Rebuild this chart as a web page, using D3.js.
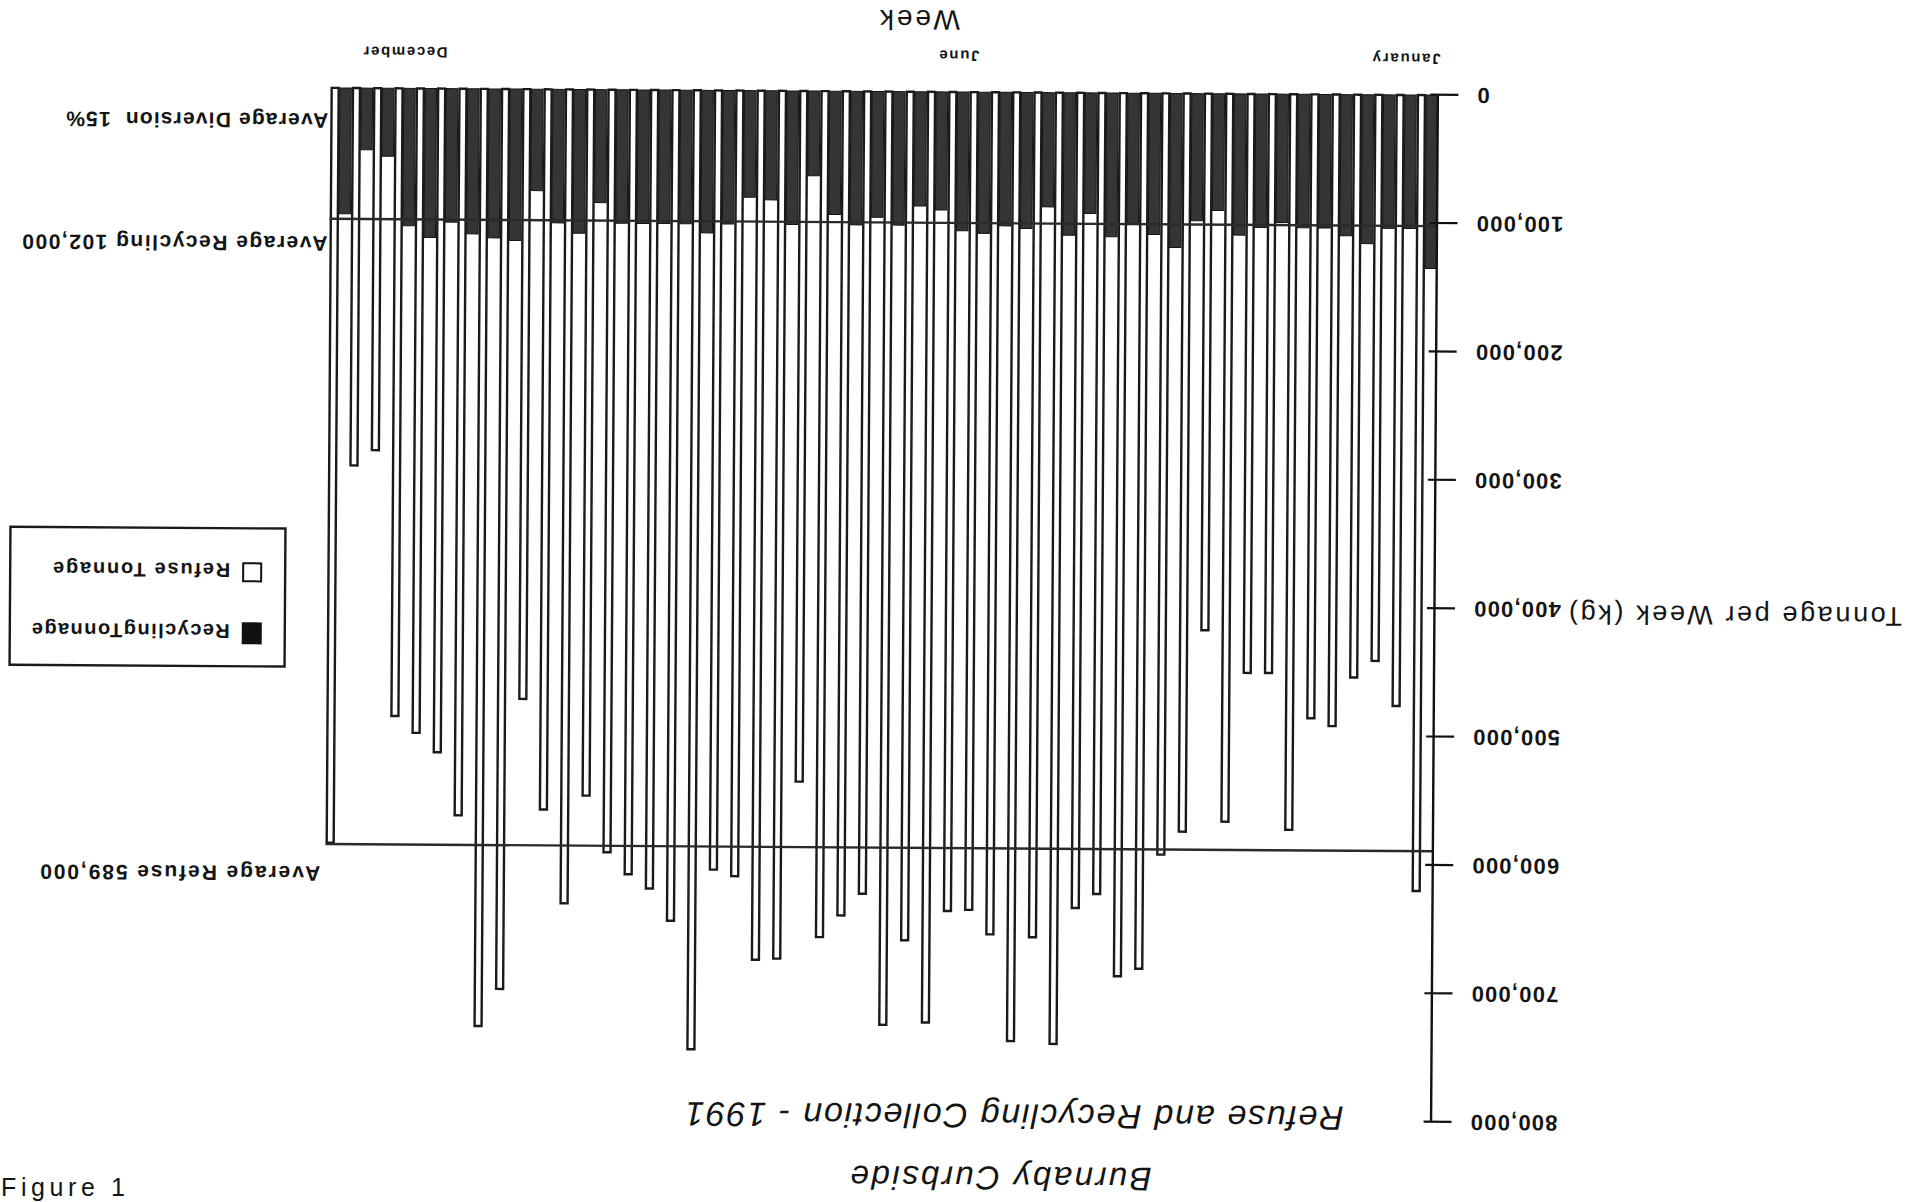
<!DOCTYPE html>
<html><head><meta charset="utf-8">
<script src="https://cdn.jsdelivr.net/npm/d3@7"></script>
<style>
html,body{margin:0;padding:0;background:#fff;}
svg{display:block;}
text{font-family:"Liberation Sans", Arial, sans-serif; fill:#141414;}
</style></head><body>
<svg id="chart" width="1909" height="1202"></svg>
<script>
// ---- data ----
const weeks = [1,2,3,4,5,6,7,8,9,10,11,12,13,14,15,16,17,18,19,20,21,22,23,24,25,26,
  27,28,29,30,31,32,33,34,35,36,37,38,39,40,41,42,43,44,45,46,47,48,49,50,51,52];
const refuseTonnage = [620,476,441,454,492,486,573,451,451,567,418,575,593,682,688,624,635,741,658,739,
  656,637,638,725,661,727,625,642,659,538,676,677,612,607,747,647,622,611,594,550,
  634,561,475,701,730,566,517,502,489,282,294,588].map(v => v * 1000);
const recyclingTonnage = [135,104,104,116,110,104,104,100,104,110,91,99,120,110,102,112,94,111,89,106,
  104,110,108,92,89,104,98,104,96,66,104,85,83,104,111,104,104,104,104,88,
  112,104,79,118,116,113,104,116,107,53,48,98].map(v => v * 1000);
const yTicks = [0,100000,200000,300000,400000,500000,600000,700000,800000];
const monthLabels = ["January","June","December"];
const monthWeeks = [2,23,49];
const monthWidths = [68,40,84];
const averageRefuse = 589000;
const averageRecycling = 102000;
const averageDiversion = 15;
const legendLabels = ["RecyclingTonnage","Refuse Tonnage"];

// ---- drawing ----
const W = 1909, H = 1202;
const svg = d3.select("#chart");
svg.append("rect").attr("width", W).attr("height", H).attr("fill", "#fff");
// the scanned page is upside down and slightly skewed
const g = svg.append("g").attr("transform", `rotate(180.38 ${W/2} ${H/2})`);

const x = d3.scaleBand().domain(weeks).range([474, 474 + 52 * 21.3]).padding(0);
const y = d3.scaleLinear().domain([0, 800000]).range([1110, 83]);
const darkW = 11.4, whiteOuter = 9.4, sw = 2.4;

g.selectAll("rect.rec").data(weeks).join("rect").attr("class","rec")
  .attr("x", w => x(w) + 0.8)
  .attr("width", darkW)
  .attr("y", (w,i) => y(recyclingTonnage[i]))
  .attr("height", (w,i) => y(0) - y(recyclingTonnage[i]))
  .attr("fill", "#353535").attr("stroke", "#141414").attr("stroke-width", 1);

g.selectAll("rect.ref").data(weeks).join("rect").attr("class","ref")
  .attr("x", w => x(w) + 0.8 + darkW + sw/2)
  .attr("width", whiteOuter - sw)
  .attr("y", (w,i) => y(refuseTonnage[i]))
  .attr("height", (w,i) => y(0) - y(refuseTonnage[i]))
  .attr("fill", "#fff").attr("stroke", "#1a1a1a").attr("stroke-width", sw);

const lineEnd = x(52) + 0.8 + darkW + whiteOuter;
[averageRecycling, averageRefuse].forEach(v => {
  g.append("line").attr("x1", 474).attr("x2", lineEnd)
    .attr("y1", y(v)).attr("y2", y(v))
    .attr("stroke", "#2a2a2a").attr("stroke-width", 2.4);
});

// y axis
const ax = g.append("g").attr("transform", "translate(474,0)")
  .call(d3.axisLeft(y).tickValues(yTicks).tickFormat(d3.format(","))
    .tickSizeInner(20).tickSizeOuter(0).tickPadding(18));
ax.select(".domain").attr("stroke", "#111").attr("stroke-width", 2.4);
ax.selectAll(".tick line").attr("x1", 8).attr("x2", -20).attr("stroke", "#111").attr("stroke-width", 2.2);
ax.selectAll(".tick text").attr("font-family", "Liberation Sans, Arial, sans-serif")
  .attr("font-size", 22).attr("font-weight", "bold").attr("fill", "#141414")
  .attr("letter-spacing", 1.2);

g.append("text").attr("x", 7).attr("y", 592).attr("dominant-baseline", "central")
  .attr("font-size", 27).attr("textLength", 333).attr("lengthAdjust", "spacing")
  .text("Tonnage per Week (kg)");

// month labels along the week axis
g.selectAll("text.month").data(monthLabels).join("text").attr("class","month")
  .attr("x", (d,i) => x(monthWeeks[i]) + x.bandwidth()/2)
  .attr("y", 1146).attr("text-anchor", "middle").attr("dominant-baseline", "central")
  .attr("font-size", 15).attr("font-weight", "bold")
  .attr("textLength", (d,i) => monthWidths[i]).attr("lengthAdjust", "spacing")
  .text(d => d);

g.append("text").attr("x", 993).attr("y", 1182).attr("text-anchor", "middle")
  .attr("dominant-baseline", "central").attr("font-size", 28)
  .attr("textLength", 80).attr("lengthAdjust", "spacing").text("Week");

// titles
g.append("text").attr("x", 904).attr("y", 24).attr("text-anchor", "middle")
  .attr("dominant-baseline", "central").attr("font-size", 33).attr("font-style", "italic")
  .attr("textLength", 301).attr("lengthAdjust", "spacing").text("Burnaby Curbside");
g.append("text").attr("x", 891).attr("y", 86).attr("text-anchor", "middle")
  .attr("dominant-baseline", "central").attr("font-size", 34).attr("font-style", "italic")
  .attr("textLength", 658).attr("lengthAdjust", "spacing")
  .text("Refuse and Recycling Collection - 1991");

// average annotations
const notes = [
  {t: "Average Diversion  " + averageDiversion + "%", y: 1077, x: 1584, w: 262},
  {t: "Average Recycling " + d3.format(",")(averageRecycling), y: 954, x: 1584, w: 305},
  {t: "Average Refuse " + d3.format(",")(averageRefuse), y: 324, x: 1587, w: 280}
];
g.selectAll("text.note").data(notes).join("text").attr("class","note")
  .attr("x", d => d.x).attr("y", d => d.y).attr("dominant-baseline", "central")
  .attr("font-size", 21).attr("font-weight", "bold").style("white-space", "pre")
  .attr("textLength", d => d.w).attr("lengthAdjust", "spacing").text(d => d.t);

// legend
const lg = g.append("g");
lg.append("rect").attr("x", 1624).attr("y", 531).attr("width", 275).attr("height", 138)
  .attr("fill", "#fff").attr("stroke", "#1a1a1a").attr("stroke-width", 2.4);
lg.append("rect").attr("x", 1647).attr("y", 553).attr("width", 20).attr("height", 22).attr("fill", "#111");
lg.append("rect").attr("x", 1648).attr("y", 616).attr("width", 18).attr("height", 18)
  .attr("fill", "#fff").attr("stroke", "#111").attr("stroke-width", 2);
lg.selectAll("text").data(legendLabels).join("text")
  .attr("x", 1679).attr("y", (d,i) => i === 0 ? 566 : 627).attr("dominant-baseline", "central")
  .attr("font-size", 20).attr("font-weight", "bold")
  .attr("textLength", (d,i) => i === 0 ? 198 : 177).attr("lengthAdjust", "spacing")
  .text(d => d);

// upright page note near the bottom page edge
svg.append("text").attr("x", 1).attr("y", 1196).attr("font-size", 25)
  .attr("textLength", 124).attr("lengthAdjust", "spacing").text("Figure 1");
</script>
</body></html>
